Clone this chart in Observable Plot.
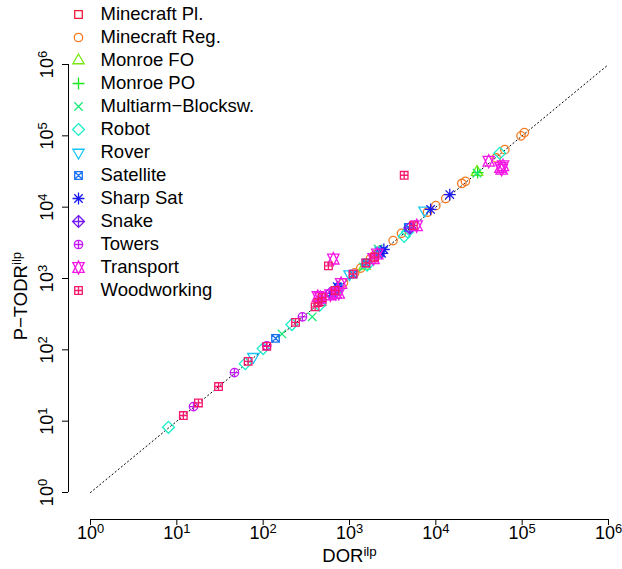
<!DOCTYPE html>
<html><head><meta charset="utf-8">
<script src="https://cdn.jsdelivr.net/npm/d3@7"></script>
<script src="https://cdn.jsdelivr.net/npm/@observablehq/plot@0.6"></script>
<style>
body{margin:0;background:#fff;}
#wrap{position:relative;width:622px;height:569px;overflow:hidden;}
#wrap svg{position:absolute;left:0;top:0;}
</style></head><body><div id="wrap"></div>
<script>
const domains = ["Minecraft Pl.","Minecraft Reg.","Monroe FO","Monroe PO","Multiarm\u2212Blocksw.","Robot","Rover","Satellite","Sharp Sat","Snake","Towers","Transport","Woodworking"];
const colors = ["#F01A35","#F57A22","#78E810","#18E818","#18E878","#18EEC8","#18C4F5","#1A72F5","#1A1AF0","#7418F5","#C418F5","#F518E4","#F5186C"];

const minecraftPl = [[480,470],[700,650],[1900,1950]];
const minecraftReg = [[850,870],[1150,1200],[1350,1400],[1750,1900],[2000,2150],[3200,3400],[4000,4300],[8000,8500],[10000,10500],[13000,13200],[20000,21500],[22000,23000],[50000,49000],[63000,64000],[97000,100000],[106000,111000]];
const monroeFO = [[30000,31000],[1500,1500]];
const monroePO = [[30500,30500],[2200,2400]];
const multiarm = [[165,167],[370,290],[1450,1450],[2150,2600],[30000,30000]];
const robot = [[8,8.2],[62,64],[100,104],[215,226],[450,420],[680,640],[1600,1550],[4300,3900],[4700,4500],[55000,57000]];
const rover = [[77,80],[1000,1150],[2300,2450],[7400,9000]];
const satellite = [[139,145],[650,600],[740,750],[1100,1150],[1550,1650],[2250,2300],[4800,5200]];
const sharpSat = [[720,770],[2350,2250],[2500,2550],[8700,9300],[14500,15000]];
const snake = [[600,620],[5000,5100]];
const towers = [[15.6,16],[46.5,48],[110,114],[285,290],[470,500]];
const transport = [[430,560],[460,540],[600,590],[690,620],[750,620],[800,850],[650,1870],[1900,1900],[2100,2200],[6000,5500],[41000,44000],[56000,36000],[58000,34000],[60000,38000]];
const woodworking = [[11.9,12],[17.8,18],[30.4,30.6],[67,69],[110,112],[237,243],[400,400],[430,460],[480,540],[570,1500],[680,680],[1100,1150],[1550,1650],[1950,2000],[5500,5500],[4300,28000]];
const series = [minecraftPl, minecraftReg, monroeFO, monroePO, multiarm, robot, rover, satellite, sharpSat, snake, towers, transport, woodworking];

const xTicks = [1,10,100,1000,10000,100000,1000000];
const yTicks = [1,10,100,1000,10000,100000,1000000];
const diagonal = [1, 1000000];

// R-style pch 0..12 symbols
const sym = fn => ({draw(ctx, size){ fn(ctx, Math.sqrt(size / Math.PI)); }});
const poly = (ctx, pts) => { ctx.moveTo(pts[0][0], pts[0][1]); for (const p of pts.slice(1)) ctx.lineTo(p[0], p[1]); ctx.closePath(); };
const seg = (ctx, x1, y1, x2, y2) => { ctx.moveTo(x1, y1); ctx.lineTo(x2, y2); };
const sq = (ctx, s) => poly(ctx, [[-s,-s],[s,-s],[s,s],[-s,s]]);
const triUp = (ctx, r) => poly(ctx, [[0,-1.555*r],[1.347*r,0.778*r],[-1.347*r,0.778*r]]);
const triDown = (ctx, r) => poly(ctx, [[0,1.555*r],[1.347*r,-0.778*r],[-1.347*r,-0.778*r]]);
const circ = (ctx, r) => { ctx.moveTo(r, 0); ctx.arc(0, 0, r, 0, 2 * Math.PI); };
const symbols = [
  sym((c,r) => sq(c, 0.9*r)),
  sym((c,r) => circ(c, r)),
  sym((c,r) => triUp(c, r)),
  sym((c,r) => { const a = 1.414*r; seg(c,-a,0,a,0); seg(c,0,-a,0,a); }),
  sym((c,r) => { seg(c,-r,-r,r,r); seg(c,-r,r,r,-r); }),
  sym((c,r) => { const a = 1.414*r; poly(c, [[0,-a],[a,0],[0,a],[-a,0]]); }),
  sym((c,r) => triDown(c, r)),
  sym((c,r) => { const s = 0.9*r; sq(c, s); seg(c,-s,-s,s,s); seg(c,-s,s,s,-s); }),
  sym((c,r) => { const a = 1.414*r; seg(c,-a,0,a,0); seg(c,0,-a,0,a); seg(c,-r,-r,r,r); seg(c,-r,r,r,-r); }),
  sym((c,r) => { const a = 1.414*r; poly(c, [[0,-a],[a,0],[0,a],[-a,0]]); seg(c,-a,0,a,0); seg(c,0,-a,0,a); }),
  sym((c,r) => { circ(c, r); seg(c,-r,0,r,0); seg(c,0,-r,0,r); }),
  sym((c,r) => { const R = 1.555*r, yc = 1.166*r, xc = 1.347*r; poly(c, [[0,-R],[xc,yc],[-xc,yc]]); poly(c, [[0,R],[xc,-yc],[-xc,-yc]]); }),
  sym((c,r) => { const s = 0.9*r; sq(c, s); seg(c,-s,0,s,0); seg(c,0,-s,0,s); })
];

const data = domains.flatMap((name, i) => series[i].map(([x, y]) => ({name, x, y})));
const fmt = d => "10^" + Math.round(Math.log10(d));
const font = "Liberation Sans, Arial, Helvetica, sans-serif";

const chart = Plot.plot({
  width: 622, height: 569,
  marginLeft: 68, marginRight: 14, marginTop: 64, marginBottom: 50,
  style: {fontFamily: font, background: "transparent", color: "black"},
  x: {type: "log", domain: [1, 1e6], range: [90, 608], ticks: xTicks, tickSize: 6, tickFormat: () => "", label: null},
  y: {type: "log", domain: [1, 1e6], range: [492, 64], ticks: yTicks, tickSize: 6, tickFormat: () => "", label: null},
  color: {domain: domains, range: colors},
  symbol: {domain: domains, range: symbols},
  marks: [
    Plot.ruleY([xTicks[0]], {x1: xTicks[0], x2: xTicks[xTicks.length - 1], dy: 27, stroke: "black"}),
    Plot.ruleX([yTicks[0]], {y1: yTicks[0], y2: yTicks[yTicks.length - 1], dx: -22, stroke: "black"}),
    Plot.text(xTicks, {x: d => d, text: fmt, frameAnchor: "bottom", dy: 19, textAnchor: "middle", fontSize: 18, fill: "black"}),
    Plot.text(yTicks, {y: d => d, text: fmt, frameAnchor: "left", dx: -21, rotate: -90, textAnchor: "middle", fontSize: 18, fill: "black"}),
    Plot.text(["DOR^ilp"], {frameAnchor: "bottom", dx: 11, dy: 42, textAnchor: "middle", fontSize: 18.5, fill: "black"}),
    Plot.text(["P\u2212TODR^ilp"], {frameAnchor: "left", dx: -47, dy: 4, rotate: -90, textAnchor: "middle", fontSize: 18.5, fill: "black"}),
    Plot.line(diagonal, {x: d => d, y: d => d, stroke: "black", strokeWidth: 1, strokeDasharray: "1.2,2.8"}),
    Plot.dot(data, {x: "x", y: "y", symbol: "name", stroke: "name", fill: "none", r: 4.2, strokeWidth: 1.3})
  ]
});

const legend = Plot.plot({
  width: 300, height: 300,
  marginLeft: 78, marginRight: 0, marginTop: 0, marginBottom: 0,
  style: {fontFamily: font, background: "transparent", color: "black"},
  x: {axis: null},
  y: {type: "point", domain: domains, range: [12, 291], padding: 0, axis: null},
  color: {domain: domains, range: colors},
  symbol: {domain: domains, range: symbols},
  marks: [
    Plot.dot(domains, {y: d => d, symbol: d => d, stroke: d => d, fill: "none", r: 4.2, strokeWidth: 1.3, frameAnchor: "left"}),
    Plot.text(domains, {y: d => d, text: d => d, frameAnchor: "left", dx: 22, textAnchor: "start", fontSize: 18.5, fill: "black"})
  ]
});

function superscripts(svg) {
  d3.select(svg).selectAll("text").each(function() {
    const t = this.textContent; const i = t.indexOf("^"); if (i < 0) return;
    const el = d3.select(this); el.text(null);
    el.append("tspan").text(t.slice(0, i));
    el.append("tspan").attr("dy", "-0.45em").attr("font-size", "0.72em").text(t.slice(i + 1));
  });
}
superscripts(chart);
const wrap = document.getElementById("wrap");
wrap.appendChild(chart);
legend.style.pointerEvents = "none";
wrap.appendChild(legend);
</script></body></html>
